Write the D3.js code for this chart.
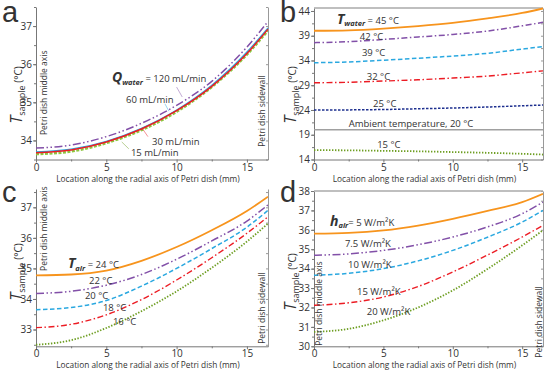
<!DOCTYPE html>
<html>
<head>
<meta charset="utf-8">
<script src="https://cdn.jsdelivr.net/npm/d3@7"></script>
<style>
  body { margin: 0; background: #fff; }
  text { font-family: "Open Sans", sans-serif; fill: #333; }
</style>
</head>
<body>
<svg id="chart" width="550" height="374"></svg>
<script>
"use strict"

// location along the radial axis (mm)
const xs = [0, 2.5, 5, 7.5, 10, 12.5, 15, 16.5]

// a: water flow rate
const q120 = [33.80, 33.88, 34.10, 34.45, 34.92, 35.55, 36.45, 37.12]
const q60  = [33.70, 33.77, 33.98, 34.32, 34.80, 35.45, 36.32, 36.95]
const q30  = [33.68, 33.75, 33.96, 34.30, 34.78, 35.42, 36.28, 36.92]
const q15  = [33.64, 33.71, 33.93, 34.27, 34.75, 35.40, 36.25, 36.88]

// b: water temperature
const tw45 = [40.0, 40.1, 40.45, 40.95, 41.6, 42.5, 43.6, 44.5]
const tw42 = [37.6, 37.8, 38.25, 38.75, 39.25, 39.95, 41.0, 41.7]
const tw39 = [33.55, 33.7, 34.05, 34.45, 34.9, 35.45, 36.3, 36.8]
const tw32 = [29.5, 29.6, 29.85, 30.1, 30.45, 30.85, 31.5, 31.9]
const tw25 = [24.0, 24.02, 24.1, 24.25, 24.4, 24.6, 24.85, 25.0]
const tAmb = [20, 20, 20, 20, 20, 20, 20, 20]
const tw15 = [15.9, 15.85, 15.75, 15.65, 15.5, 15.35, 15.15, 15.0]

// c: air temperature
const ta24 = [34.77, 34.8, 34.93, 35.25, 35.7, 36.25, 36.88, 37.35]
const ta22 = [34.18, 34.25, 34.45, 34.8, 35.3, 35.9, 36.55, 37.08]
const ta20 = [33.65, 33.72, 33.95, 34.42, 35.0, 35.65, 36.35, 36.9]
const ta18 = [33.06, 33.17, 33.48, 33.98, 34.62, 35.35, 36.15, 36.69]
const ta16 = [32.5, 32.65, 33.05, 33.6, 34.25, 35.02, 35.88, 36.47]

// d: air heat transfer coefficient
const h5  = [35.8, 35.84, 35.97, 36.22, 36.57, 36.98, 37.43, 37.86]
const h75 = [34.69, 34.76, 34.94, 35.23, 35.63, 36.15, 36.83, 37.43]
const h10 = [33.66, 33.76, 34.0, 34.4, 34.94, 35.62, 36.4, 37.0]
const h15 = [32.11, 32.24, 32.54, 33.08, 33.83, 34.7, 35.63, 36.23]
const h20 = [30.74, 30.9, 31.34, 32.0, 32.88, 33.98, 35.2, 35.98]

const xTicks = [0, 5, 10, 15]
const yTicksA = [34, 35, 36, 37]
const yTicksB = [14, 19, 24, 29, 34, 39, 44]
const yTicksC = [33, 34, 35, 36, 37]
const yTicksD = [30, 31, 32, 33, 34, 35, 36, 37, 38]

const orange = "#f7941d", purple = "#8250a8", cyan = "#2aa8e0",
      red = "#ec1c24", navy = "#1d2f8f", green = "#6e9e22", gray = "#a0a0a0"

const dashDotDot = "8,2.5,1.5,2.5,1.5,2.5"
const dashDot = "6,2.5,1.5,2.5"
const dashed = "4.5,2.5"
const dotted = "1.4,1.6"

const svg = d3.select("#chart")

function panel(cfg) {
  const x = d3.scaleLinear().domain([0, 16.5]).range([cfg.left, cfg.right])
  const y = d3.scaleLinear().domain(cfg.yDomain).range([cfg.bottom, cfg.top])
  const g = svg.append("g")

  // minor ticks at half steps
  const half = (cfg.yTicks[1] - cfg.yTicks[0]) / 2
  const minor = d3.range(Math.ceil((cfg.yDomain[0] - cfg.yTicks[0]) / half - 1e-6),
                         Math.floor((cfg.yDomain[1] - cfg.yTicks[0]) / half + 1e-6) + 1)
    .map(k => cfg.yTicks[0] + k * half)

  // left axis
  g.append("g")
    .attr("transform", `translate(${cfg.left},0)`)
    .call(d3.axisLeft(y).tickValues(minor).tickSize(2).tickFormat(""))
    .call(a => a.select(".domain").remove())
    .selectAll("line").attr("stroke", "#777")
  const yAxis = g.append("g")
    .attr("transform", `translate(${cfg.left},0)`)
    .call(d3.axisLeft(y).tickValues(cfg.yTicks).tickSize(3).tickPadding(1)
      .tickSizeOuter(0).tickFormat(d3.format("d")))
  yAxis.select(".domain").attr("stroke", "#777")
  yAxis.selectAll("line").attr("stroke", "#777")
  yAxis.selectAll("text").style("font-size", "10px").attr("fill", "#333")

  // right axis, ticks inward
  const rAxis = g.append("g")
    .attr("transform", `translate(${cfg.right},0)`)
    .call(d3.axisRight(y).tickValues(minor).tickSize(-2).tickFormat("").tickSizeOuter(0))
  rAxis.select(".domain").attr("stroke", "#999")
  rAxis.selectAll("line").attr("stroke", "#999")

  if (cfg.topLine) {
    g.append("line")
      .attr("x1", cfg.left).attr("x2", cfg.right)
      .attr("y1", cfg.top).attr("y2", cfg.top)
      .attr("stroke", "#aaa").attr("stroke-width", 1.5)
  }

  // bottom axis
  g.append("g")
    .attr("transform", `translate(0,${cfg.bottom})`)
    .call(d3.axisBottom(x).tickValues([2.5, 7.5, 12.5]).tickSize(2).tickFormat(""))
    .call(a => a.select(".domain").remove())
    .selectAll("line").attr("stroke", "#777")
  const xAxis = g.append("g")
    .attr("transform", `translate(0,${cfg.bottom})`)
    .call(d3.axisBottom(x).tickValues(xTicks).tickSize(3).tickPadding(1)
      .tickSizeOuter(0).tickFormat(d3.format("d")))
  xAxis.select(".domain").attr("stroke", "#777")
  xAxis.selectAll("line").attr("stroke", "#777")
  xAxis.selectAll("text").style("font-size", "10px").attr("fill", "#333")

  g.append("text")
    .attr("x", (cfg.left + cfg.right) / 2 - 4)
    .attr("y", cfg.bottom + 22)
    .attr("text-anchor", "middle")
    .style("font-size", "8.3px")
    .text("Location along the radial axis of Petri dish (mm)")

  // y title
  const yt = g.append("text")
    .attr("transform", `translate(${cfg.titleX},${cfg.titleY}) rotate(-90)`)
    .attr("text-anchor", "middle")
  yt.append("tspan").style("font-size", "16px").style("font-style", "italic").text("T")
  yt.append("tspan").attr("dy", 3).style("font-size", "9px").text("sample")
  yt.append("tspan").attr("dy", -3).style("font-size", "10px").text(" (°C)")

  // panel letter
  g.append("text")
    .attr("x", cfg.left - 34).attr("y", cfg.letterY)
    .style("font-family", "'Liberation Sans', Arial, sans-serif")
    .style("font-size", "29px").attr("fill", "#111")
    .text(cfg.letter)

  // curves
  const line = d3.line().x((d, i) => x(xs[i])).y(d => y(d)).curve(d3.curveMonotoneX)
  const clip = "clip-" + cfg.letter
  svg.append("clipPath").attr("id", clip).append("rect")
    .attr("x", cfg.left).attr("y", cfg.top - 1)
    .attr("width", cfg.right - cfg.left).attr("height", cfg.bottom - cfg.top + 1)
  g.append("g").attr("clip-path", `url(#${clip})`)
    .selectAll("path").data(cfg.series).join("path")
      .attr("d", s => line(s.values))
      .attr("fill", "none")
      .attr("stroke", s => s.color)
      .attr("stroke-width", s => s.width)
      .attr("stroke-dasharray", s => s.dash || null)

  // vertical side notes
  cfg.notes.forEach(n => {
    g.append("text")
      .attr("transform", `translate(${x(n.x)},${y(n.y)}) rotate(-90)`)
      .attr("text-anchor", "middle")
      .style("font-size", "8.5px").attr("fill", "#444")
      .text(n.text)
  })

  // leader lines
  ;(cfg.leaders || []).forEach(l => {
    g.append("line")
      .attr("x1", x(l.x1)).attr("y1", y(l.y1))
      .attr("x2", x(l.x2)).attr("y2", y(l.y2))
      .attr("stroke", l.color).attr("stroke-width", 0.6).attr("opacity", 0.8)
  })

  // curve labels
  cfg.labels.forEach(lb => {
    const t = g.append("text")
      .attr("x", x(lb.x)).attr("y", y(lb.y))
      .style("font-size", "9.5px")
    if (lb.sym) {
      t.append("tspan").style("font-size", "14px").style("font-weight", "bold")
        .style("font-style", "italic").text(lb.sym)
      t.append("tspan").attr("dy", 2.5).style("font-size", "7.5px").style("font-weight", "bold")
        .style("font-style", "italic").text(lb.sub)
      t.append("tspan").attr("dy", -2.5).text(lb.text)
    } else {
      t.text(lb.text)
    }
  })
}

panel({
  letter: "a", letterY: 22,
  left: 36, right: 268, top: 7, bottom: 159.5,
  yDomain: [33.5, 37.5], yTicks: yTicksA,
  titleX: 22, titleY: 95,
  series: [
    { values: q15, color: "#8dc63f", width: 2.4, dash: "3,1.5" },
    { values: q60, color: cyan, width: 1.2 },
    { values: q30, color: red, width: 1.5 },
    { values: q120, color: purple, width: 1.5, dash: dashDotDot }
  ],
  notes: [
    { x: 0.78, y: 35.25, text: "Petri dish middle axis" },
    { x: 16.3, y: 34.77, text: "Petri dish sidewall" }
  ],
  leaders: [
    { x1: 10.0, y1: 35.4, x2: 10.4, y2: 35.14, color: purple },
    { x1: 9.17, y1: 34.96, x2: 9.45, y2: 34.77, color: cyan },
    { x1: 7.96, y1: 34.1, x2: 7.53, y2: 34.33, color: red },
    { x1: 6.6, y1: 33.78, x2: 6.1, y2: 33.96, color: green }
  ],
  labels: [
    { x: 5.4, y: 35.53, sym: "Q", sub: "water", text: " = 120 mL/min" },
    { x: 6.4, y: 34.98, text: "60 mL/min" },
    { x: 8.25, y: 33.88, text: "30 mL/min" },
    { x: 6.75, y: 33.6, text: "15 mL/min" }
  ]
})

panel({
  letter: "b", letterY: 22,
  left: 314, right: 543, top: 8, bottom: 159.5,
  yDomain: [14, 44.6], yTicks: yTicksB,
  titleX: 296, titleY: 95, topLine: true,
  series: [
    { values: tw15, color: green, width: 1.8, dash: dotted },
    { values: tAmb, color: gray, width: 1.5 },
    { values: tw25, color: navy, width: 1.5, dash: "2.5,1.5" },
    { values: tw32, color: red, width: 1.4, dash: dashDot },
    { values: tw39, color: cyan, width: 1.5, dash: dashed },
    { values: tw42, color: purple, width: 1.5, dash: dashDot },
    { values: tw45, color: orange, width: 1.8 }
  ],
  notes: [],
  labels: [
    { x: 1.65, y: 41.4, sym: "T", sub: "water", text: " = 45 °C" },
    { x: 3.3, y: 38.2, text: "42 °C" },
    { x: 3.45, y: 34.9, text: "39 °C" },
    { x: 3.8, y: 30.1, text: "32 °C" },
    { x: 4.25, y: 24.6, text: "25 °C" },
    { x: 2.5, y: 20.5, text: "Ambient temperature, 20 °C" },
    { x: 4.55, y: 16.3, text: "15 °C" }
  ]
})

panel({
  letter: "c", letterY: 202,
  left: 36, right: 268, top: 189, bottom: 346.3,
  yDomain: [32.45, 37.6], yTicks: yTicksC,
  titleX: 22, titleY: 272,
  series: [
    { values: ta16, color: green, width: 1.8, dash: dotted },
    { values: ta18, color: red, width: 1.4, dash: dashDot },
    { values: ta20, color: cyan, width: 1.5, dash: dashed },
    { values: ta22, color: purple, width: 1.5, dash: dashDotDot },
    { values: ta24, color: orange, width: 1.8 }
  ],
  notes: [
    { x: 0.78, y: 36.3, text: "Petri dish middle axis" },
    { x: 16.3, y: 33.7, text: "Petri dish sidewall" }
  ],
  labels: [
    { x: 2.27, y: 35.0, sym: "T", sub: "air", text: " = 24 °C" },
    { x: 3.77, y: 34.48, text: "22 °C" },
    { x: 3.48, y: 34.0, text: "20 °C" },
    { x: 4.76, y: 33.62, text: "18 °C" },
    { x: 5.47, y: 33.16, text: "16 °C" }
  ]
})

panel({
  letter: "d", letterY: 202,
  left: 314, right: 543, top: 191, bottom: 346.3,
  yDomain: [30, 38], yTicks: yTicksD,
  titleX: 296, titleY: 282, topLine: true,
  series: [
    { values: h20, color: green, width: 1.8, dash: dotted },
    { values: h15, color: red, width: 1.4, dash: dashDot },
    { values: h10, color: cyan, width: 1.5, dash: dashed },
    { values: h75, color: purple, width: 1.5, dash: dashDotDot },
    { values: h5, color: orange, width: 1.8 }
  ],
  notes: [
    { x: 0.58, y: 32.2, text: "Petri dish middle axis" },
    { x: 16.4, y: 31.25, text: "Petri dish sidewall" }
  ],
  labels: [
    { x: 1.15, y: 36.2, sym: "h", sub: "air", text: "= 5 W/m²K" },
    { x: 2.23, y: 35.1, text: "7.5 W/m²K" },
    { x: 2.45, y: 34.03, text: "10  W/m²K" },
    { x: 3.1, y: 32.64, text: "15  W/m²K" },
    { x: 3.8, y: 31.6, text: "20  W/m²K" }
  ]
})
</script>
</body>
</html>
